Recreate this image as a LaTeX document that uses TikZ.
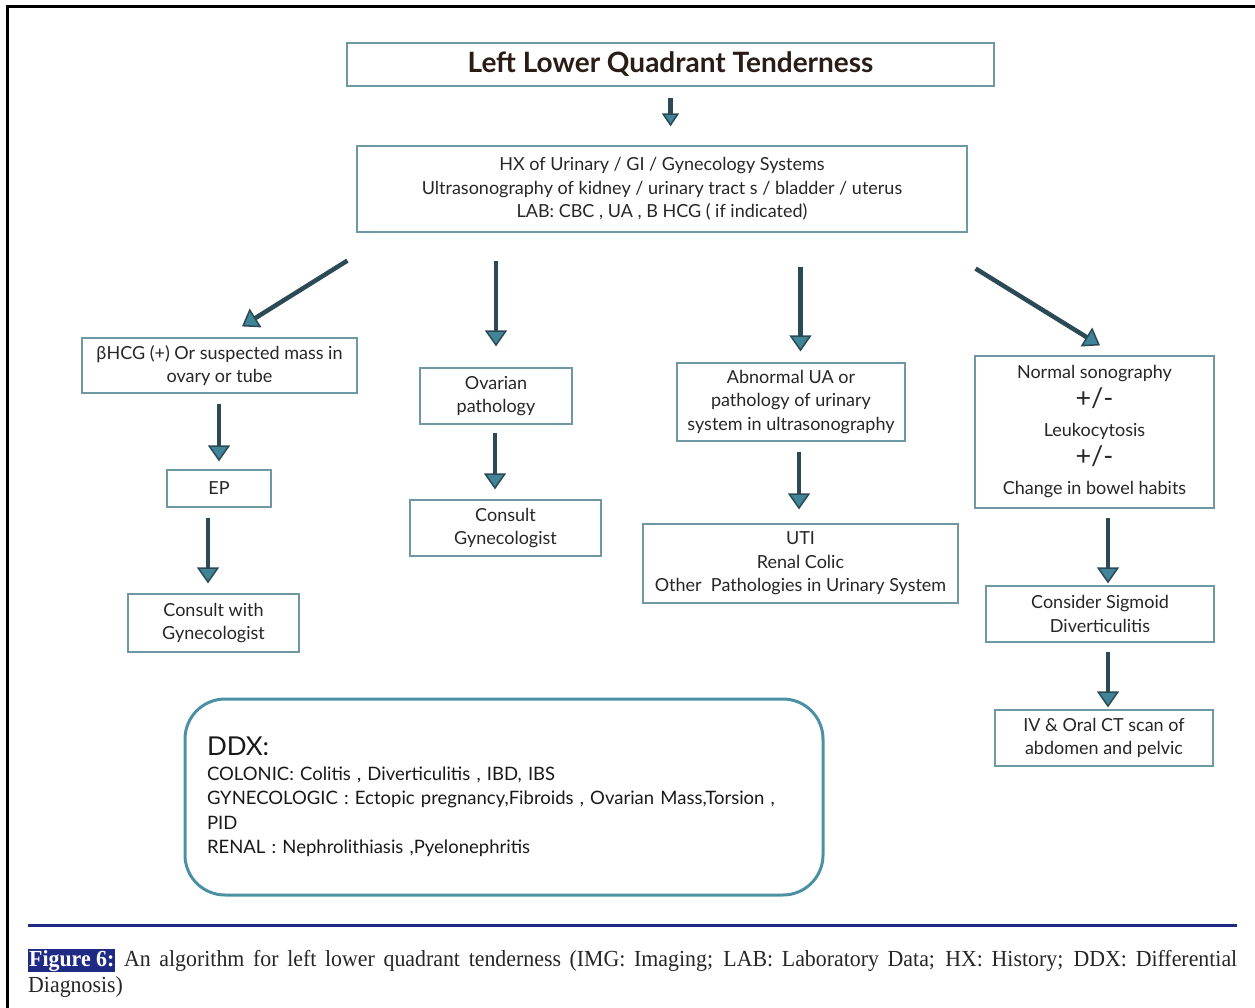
\documentclass[tikz,border=0pt]{standalone}
\usepackage{fontspec}
\setmainfont{Lato}
\newfontfamily\capfont[FakeStretch=0.95]{Liberation Serif}
\usetikzlibrary{arrows.meta,calc}
\definecolor{boxline}{HTML}{6E98A4}
\definecolor{arrowdark}{HTML}{2C4A56}
\definecolor{arrowfill}{HTML}{3F8497}
\definecolor{ddxline}{HTML}{4B91A3}
\definecolor{rulecol}{HTML}{1F2A85}
\definecolor{titlecol}{HTML}{2A1C16}
\tikzset{
	box/.style={draw=boxline, line width=1.2pt, inner sep=0pt, align=center,
		font=\fontsize{18}{23.5}\selectfont, text=black!85},
	flowarrow/.style={draw=arrowdark, line width=4.5pt,
		-{Triangle[width=22pt,length=16pt,fill=arrowfill,line width=1.5pt]}}
}

\begin{document}
\begin{tikzpicture}[x=1pt,y=-1pt]
	\useasboundingbox (0,0) rectangle (1255,1008);
	% frame and caption rule
	\draw[line width=3pt] (7,1008) -- (7,7) -- (1255,7);
	\draw[rulecol, line width=3pt] (28,925) -- (1237,925);

	\node[box, minimum width=647pt, minimum height=43pt, text=titlecol,
		font=\bfseries\fontsize{28}{30}\selectfont] (title) at (670.5,64.5)
		{Left Lower Quadrant Tenderness};
	\node[box, minimum width=610pt, minimum height=86pt] (hx) at (662,189)
		{HX of Urinary / GI / Gynecology Systems\\
		 Ultrasonography of kidney / urinary tract s / bladder / uterus\\
		 LAB: CBC , UA , B HCG ( if indicated)};

	% left column
	\node[box, minimum width=275pt, minimum height=55pt] (bhcg) at (219.5,365.5)
		{βHCG (+) Or suspected mass in\\ ovary or tube};
	\node[box, minimum width=104pt, minimum height=37pt] (ep) at (219,488.5) {EP};
	\node[box, minimum width=171pt, minimum height=58pt] (cons1) at (213.5,623)
		{Consult with\\ Gynecologist};

	% ovarian column
	\node[box, minimum width=152pt, minimum height=56pt] (ovar) at (496,396)
		{Ovarian\\ pathology};
	\node[box, minimum width=191pt, minimum height=56pt] (cons2) at (505.5,528)
		{Consult\\ Gynecologist};

	% urinary column
	\node[box, minimum width=228pt, minimum height=78pt] (ua) at (791,402)
		{Abnormal UA or\\ pathology of urinary\\ system in ultrasonography};
	\node[box, minimum width=315pt, minimum height=79pt] (uti) at (800.5,563.5)
		{UTI\\ Renal Colic\\ Other\ \ Pathologies in Urinary System};

	% right column
	\node[box, minimum width=239pt, minimum height=152pt, font=\fontsize{18}{29}\selectfont]
		(norm) at (1094.5,432)
		{Normal sonography\\
		 {\fontsize{27}{29}\selectfont +/-}\\
		 Leukocytosis\\
		 {\fontsize{27}{29}\selectfont +/-}\\
		 Change in bowel habits};
	\node[box, minimum width=228pt, minimum height=56pt] (sig) at (1100,614)
		{Consider Sigmoid\\ Diverticulitis};
	\node[box, minimum width=218pt, minimum height=56pt] (ct) at (1104,738)
		{IV \& Oral CT scan of\\ abdomen and pelvic};

	% differential diagnosis
	\node[draw=ddxline, line width=3pt, rounded corners=40pt, minimum width=638pt,
		minimum height=196pt, inner xsep=22pt, inner ysep=0pt, text width=594pt,
		align=left, font=\fontsize{18.5}{24.5}\selectfont, text=black!90] (ddx) at (504,797)
		{{\fontsize{26}{30}\selectfont DDX:}\\
		 COLONIC: Colitis , Diverticulitis , IBD, IBS\\
		 GYNECOLOGIC : Ectopic pregnancy,Fibroids , Ovarian Mass,Torsion ,\\
		 PID\\
		 RENAL : Nephrolithiasis ,Pyelonephritis};

	% arrows
	\draw[flowarrow, -{Triangle[width=17pt,length=13pt,fill=arrowfill,line width=1.5pt]},
		shorten <=11pt, shorten >=19pt] (title) -- (title |- hx.north);
	\draw[flowarrow]
		($(hx.south west)+(-9,28)$) -- ($(bhcg.north)+(22.5,-11)$);
	\draw[flowarrow, shorten <=28pt, shorten >=21pt] (ovar.north |- hx.south) -- (ovar.north);
	\draw[flowarrow, shorten <=34pt, shorten >=11pt] (uti |- hx.south) -- (uti |- ua.north);
	\draw[flowarrow]
		($(hx.south east)+(8,36)$) -- ($(norm.north)+(5.5,-10)$);
	\draw[flowarrow, shorten <=10pt, shorten >=8pt] (ep |- bhcg.south) -- (ep.north);
	\draw[flowarrow, shorten <=10pt, shorten >=10pt] ([xshift=-11pt]ep.south) -- ([xshift=-5.5pt]cons1.north);
	\draw[flowarrow, shorten <=8pt, shorten >=10pt] ([xshift=-1pt]ovar.south) -- ([xshift=-10.5pt]cons2.north);
	\draw[flowarrow, shorten <=10pt, shorten >=14pt] ([xshift=8pt]ua.south) -- ([xshift=-1.5pt]uti.north);
	\draw[flowarrow, shorten <=9pt, shorten >=2pt] ([xshift=8pt]sig.north |- norm.south) -- ([xshift=8pt]sig.north);
	\draw[flowarrow, shorten <=9pt, shorten >=2pt] ([xshift=8pt]sig.south) -- ([xshift=4pt]ct.north);

	% caption
	\node[anchor=north west, inner sep=0pt, text width=1209pt, align=justify,
		font=\capfont\fontsize{23}{26}\selectfont, text=black!85] (cap) at (28,949)
		{\setlength{\fboxsep}{1pt}\colorbox{rulecol}{\textcolor{white}{\textbf{Figure 6:}}}
		 An algorithm for left lower quadrant tenderness (IMG: Imaging; LAB: Laboratory Data;
		 HX: History; DDX: Differential\linebreak Diagnosis)};
\end{tikzpicture}
\end{document}
